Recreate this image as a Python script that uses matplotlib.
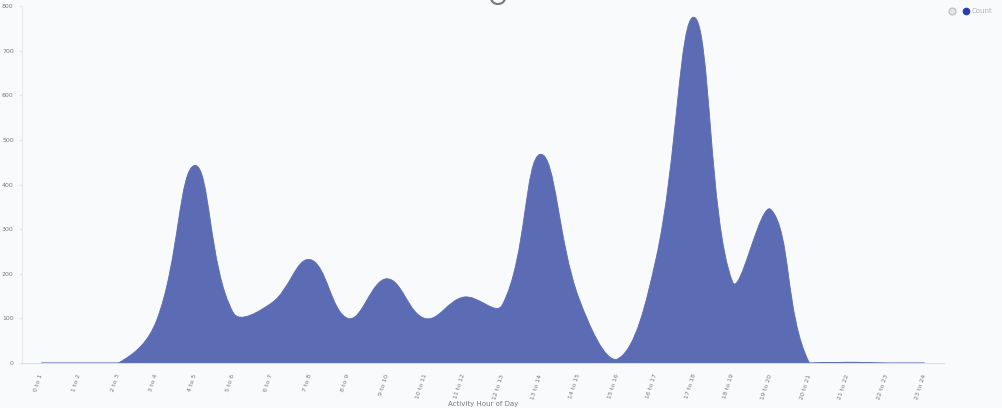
import math
import matplotlib
matplotlib.use("Agg")
import matplotlib.pyplot as plt
from matplotlib.path import Path
from matplotlib.patches import PathPatch, Arc
from matplotlib.lines import Line2D

# ── data ────────────────────────────────────────────────────────────────
hours = [
    "0 to 1", "1 to 2", "2 to 3", "3 to 4", "4 to 5", "5 to 6",
    "6 to 7", "7 to 8", "8 to 9", "9 to 10", "10 to 11", "11 to 12",
    "12 to 13", "13 to 14", "14 to 15", "15 to 16", "16 to 17", "17 to 18",
    "18 to 19", "19 to 20", "20 to 21", "21 to 22", "22 to 23", "23 to 24",
]
counts = [0, 0, 0, 95, 443, 113, 135, 232, 100, 189, 100, 148,
          130, 468, 145, 9, 232, 775, 182, 344, 0, 2, 0, 0]
y_ticks = [0, 100, 200, 300, 400, 500, 600, 700, 800]

BG = "#f9fafc"
FILL = "#5b6bb4"
TEXT = "#7a7a7a"


def spline_path(ax, xs, ys, tension=0.4):
    """Bezier area path like a tension line (control points in pixel space)."""
    fig.canvas.draw()
    to_px = ax.transData
    to_data = ax.transData.inverted()
    pts = [tuple(to_px.transform((x, y))) for x, y in zip(xs, ys)]
    x0, y0 = to_px.transform((ax.get_xlim()[0], ax.get_ylim()[0]))
    x1, y1 = to_px.transform((ax.get_xlim()[1], ax.get_ylim()[1]))
    n = len(pts)
    prev_cp, next_cp = [], []
    for i in range(n):
        p = pts[i - 1] if i > 0 else pts[i]
        c = pts[i]
        q = pts[i + 1] if i < n - 1 else pts[i]
        d01 = math.hypot(c[0] - p[0], c[1] - p[1])
        d12 = math.hypot(q[0] - c[0], q[1] - c[1])
        tot = d01 + d12
        s01 = d01 / tot if tot else 0
        s12 = d12 / tot if tot else 0
        fa, fb = tension * s01, tension * s12
        a = (c[0] - fa * (q[0] - p[0]), c[1] - fa * (q[1] - p[1]))
        b = (c[0] + fb * (q[0] - p[0]), c[1] + fb * (q[1] - p[1]))
        # keep control points inside the plot area
        a = (min(max(a[0], x0), x1), min(max(a[1], y0), y1))
        b = (min(max(b[0], x0), x1), min(max(b[1], y0), y1))
        prev_cp.append(a)
        next_cp.append(b)

    verts = [pts[0]]
    codes = [Path.MOVETO]
    for i in range(1, n):
        verts += [next_cp[i - 1], prev_cp[i], pts[i]]
        codes += [Path.CURVE4] * 3
    verts = [tuple(to_data.transform(v)) for v in verts]
    verts = [(xs[0], 0)] + verts + [(xs[-1], 0), (xs[0], 0)]
    codes = [Path.MOVETO, Path.LINETO] + codes[1:] + [Path.LINETO, Path.CLOSEPOLY]
    return Path(verts, codes)


fig = plt.figure(figsize=(10.02, 4.08), dpi=100, facecolor=BG)
ax = fig.add_axes([0.022, 0.110, 0.920, 0.875], facecolor=BG)

xpos = list(range(len(hours)))
ax.set_xlim(-0.5, len(hours) - 0.5)
ax.set_ylim(0, 800)

patch = PathPatch(spline_path(ax, xpos, counts), facecolor=FILL,
                  edgecolor=FILL, linewidth=0.6)
ax.add_patch(patch)

ax.set_yticks(y_ticks)
ax.set_yticklabels([str(v) for v in y_ticks], fontsize=4.5, color=TEXT)
ax.set_xticks(xpos)
ax.set_xticklabels(hours, fontsize=4.5, color=TEXT, rotation=72,
                   ha="right", va="center", rotation_mode="anchor")
ax.tick_params(axis="x", length=0, pad=8)
ax.tick_params(axis="y", length=2, color="#e3e5ea", pad=4)

ax.spines[["top", "right"]].set_visible(False)
ax.spines["left"].set_color("#e6e8ee")
ax.spines["left"].set_linewidth(0.8)
ax.spines["bottom"].set_color("#d9dce4")
ax.spines["bottom"].set_linewidth(0.8)
ax.spines["bottom"].set_zorder(3)

ax.set_xlabel("Activity Hour of Day", fontsize=5, color=TEXT, labelpad=1)

# legend / menu in the top right corner
fig.add_artist(Line2D([952 / 1002], [1 - 11 / 408], marker="o", markersize=5,
                      markerfacecolor="#e4e4e4", markeredgecolor="#bdbdbd",
                      markeredgewidth=0.8, transform=fig.transFigure))
fig.add_artist(Line2D([966 / 1002], [1 - 11 / 408], marker="o", markersize=4.5,
                      markerfacecolor="#2b3db3", markeredgecolor="#2b3db3",
                      transform=fig.transFigure))
fig.text(972 / 1002, 1 - 11 / 408, "Count", fontsize=5, color="#b0b0b0",
         va="center", ha="left")

# small spinner arc at the top
fig.add_artist(Arc((498 / 1002, 1 + 2 / 408), 14 / 1002, 12 / 408,
                   theta1=200, theta2=340, color="#777777", linewidth=1.5,
                   transform=fig.transFigure))

fig.savefig("out.png", dpi=100, facecolor=BG)
